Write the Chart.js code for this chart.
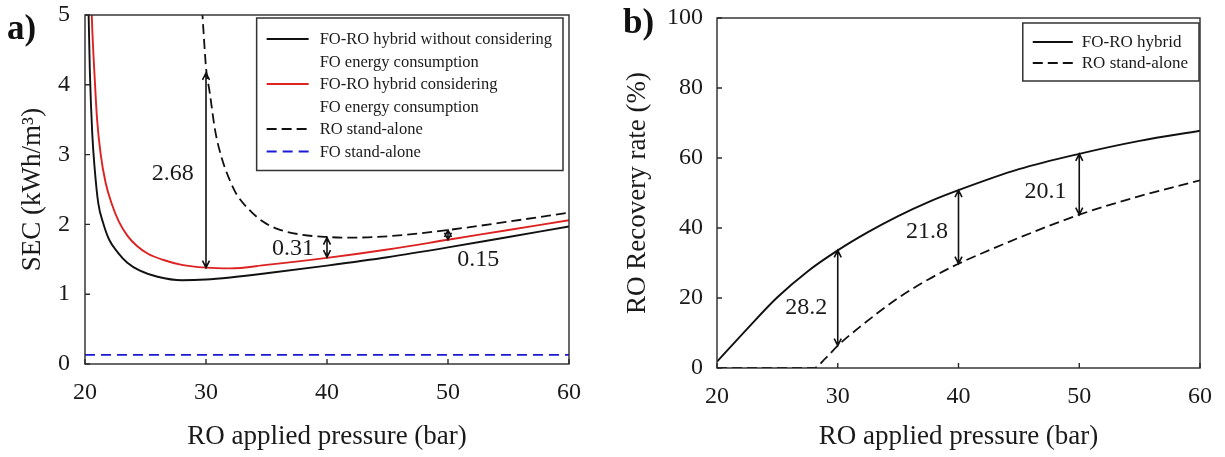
<!DOCTYPE html>
<html lang="en">
<head>
  <meta charset="UTF-8">
  <title>FO-RO hybrid: SEC and recovery vs RO applied pressure</title>
  <script src="https://cdn.jsdelivr.net/npm/chart.js@4.4.0/dist/chart.umd.min.js"></script>
  <style>
    body { margin: 0; background: #fff; }
    #wrap { position: relative; width: 1225px; height: 457px; }
    .panel { position: absolute; top: 0; height: 457px; }
    #boxA { left: 0; width: 600px; }
    #boxB { left: 610px; width: 615px; }
    .tag { position: absolute; font-family: "Liberation Serif", serif; font-weight: bold; font-size: 35px; color: #111; line-height: 1; }
  </style>
</head>
<body>
<div id="wrap">
  <div class="panel" id="boxA"><canvas id="chartA" width="600" height="457"></canvas></div>
  <div class="panel" id="boxB"><canvas id="chartB" width="615" height="457"></canvas></div>
  <div class="tag" style="left:7px;top:10px;">a)</div>
  <div class="tag" style="left:623px;top:4px;">b)</div>
</div>
<script>
// ---- panel a) SEC vs RO applied pressure ----
var pressHybrid = [20.2, 20.3, 20.4, 20.6, 20.8, 21.1, 21.5, 22.0, 22.7, 23.5, 24.5, 26, 28, 30, 32, 35, 40, 45, 50, 55, 60];
var secHybrid   = [5.6, 5.0, 4.2, 3.3, 2.8, 2.3, 2.02, 1.78, 1.6, 1.45, 1.34, 1.25, 1.2, 1.21, 1.24, 1.3, 1.41, 1.53, 1.67, 1.82, 1.97];

var pressHybridFo = [20.5, 20.6, 20.8, 21.0, 21.3, 21.7, 22.2, 22.8, 23.5, 24.3, 25.2, 26.5, 28, 30, 32, 35, 40, 45, 50, 55, 60];
var secHybridFo   = [5.3, 4.8, 4.1, 3.5, 3.0, 2.6, 2.3, 2.04, 1.84, 1.69, 1.58, 1.49, 1.42, 1.38, 1.37, 1.42, 1.52, 1.64, 1.78, 1.92, 2.06];

var pressRoA = [29.6, 29.8, 30.0, 30.3, 30.75, 31.3, 32, 32.5, 33.4, 34.7, 36, 38, 40, 42, 45, 50, 55, 60];
var secRo    = [5.3, 4.75, 4.25, 3.9, 3.35, 2.95, 2.62, 2.44, 2.24, 2.04, 1.93, 1.85, 1.82, 1.81, 1.83, 1.92, 2.04, 2.17];

var pressFo = [20, 60];
var secFo   = [0.13, 0.13];

var gapPressA = [30, 40, 50];
var gapLowA   = [1.38, 1.53, 1.78];
var gapHighA  = [4.17, 1.81, 1.92];
var gapTextA  = ['2.68', '0.31', '0.15'];
var gapTextXA = [27.25, 37.2, 52.5];
var gapTextYA = [2.73, 1.65, 1.49];

// ---- panel b) RO recovery rate vs RO applied pressure ----
var pressHybridB = [20, 22.5, 25, 27.5, 30, 32.5, 35, 37.5, 40, 45, 50, 55, 60];
var recHybrid    = [1.8, 11.2, 20.2, 27.6, 33.6, 38.8, 43.4, 47.4, 50.8, 56.8, 61.2, 64.9, 67.8];

var pressRoB = [20, 28, 29, 30, 32, 35, 37.5, 40, 42.5, 45, 50, 55, 60];
var recRo    = [0, 0, 2.8, 6.4, 12.2, 20, 25.3, 29.8, 33.6, 37.2, 43.8, 49.1, 53.6];

var gapPressB = [30, 40, 50];
var gapLowB   = [6.4, 29.8, 43.8];
var gapHighB  = [33.6, 50.8, 61.2];
var gapTextB  = ['28.2', '21.8', '20.1'];
var gapTextXB = [27.4, 37.4, 47.2];
var gapTextYB = [17.1, 38.9, 50.5];

var SERIF = '"Liberation Serif", "Times New Roman", serif';
var INK = '#1a1a1a';

function pts(xs, ys) {
  return xs.map(function (x, i) { return { x: x, y: ys[i] }; });
}

function arrowHead(ctx, x, y, dir) {
  ctx.moveTo(x - 3.5, y + dir * 7);
  ctx.lineTo(x, y);
  ctx.lineTo(x + 3.5, y + dir * 7);
}

// frame, inward ticks, gap arrows and the boxed legend
var sketchPlugin = {
  id: 'sketch',
  afterDraw: function (chart, args, opts) {
    var ctx = chart.ctx, area = chart.chartArea;
    var xs = chart.scales.x, ys = chart.scales.y;
    ctx.save();

    ctx.strokeStyle = '#2a2a2a';
    ctx.lineWidth = 1.4;
    ctx.strokeRect(area.left, area.top, area.right - area.left, area.bottom - area.top);
    ctx.beginPath();
    xs.ticks.forEach(function (t) {
      var px = xs.getPixelForValue(t.value);
      ctx.moveTo(px, area.bottom); ctx.lineTo(px, area.bottom - 5);
    });
    ys.ticks.forEach(function (t) {
      var py = ys.getPixelForValue(t.value);
      ctx.moveTo(area.left, py); ctx.lineTo(area.left + 5, py);
    });
    ctx.stroke();

    // double headed arrows between curves
    var g = opts.gaps;
    ctx.strokeStyle = '#111';
    ctx.lineWidth = 1.6;
    ctx.fillStyle = INK;
    ctx.font = '24px ' + SERIF;
    ctx.textAlign = 'center';
    ctx.textBaseline = 'middle';
    g.x.forEach(function (v, i) {
      var px = xs.getPixelForValue(v);
      var yTop = ys.getPixelForValue(g.high[i]);
      var yBot = ys.getPixelForValue(g.low[i]);
      ctx.beginPath();
      ctx.moveTo(px, yTop); ctx.lineTo(px, yBot);
      arrowHead(ctx, px, yTop, 1);
      arrowHead(ctx, px, yBot, -1);
      ctx.stroke();
      ctx.fillText(g.text[i], xs.getPixelForValue(g.tx[i]), ys.getPixelForValue(g.ty[i]));
    });

    // legend box in the upper right corner
    var L = opts.legend;
    ctx.font = L.size + 'px ' + SERIF;
    var rows = [];
    chart.data.datasets.forEach(function (ds) {
      ds.label.split('\n').forEach(function (line, k) {
        rows.push({ text: line, ds: k === 0 ? ds : null });
      });
    });
    var textW = Math.max.apply(null, rows.map(function (r) { return ctx.measureText(r.text).width; }));
    var boxW = L.textLeft + textW + 11;
    var boxH = L.padTop + (rows.length - 1) * L.rowH + L.padBottom;
    var bx = area.right - L.right - boxW, by = area.top + L.top;
    ctx.fillStyle = '#fff';
    ctx.fillRect(bx, by, boxW, boxH);
    ctx.strokeStyle = '#333';
    ctx.lineWidth = 1.5;
    ctx.strokeRect(bx, by, boxW, boxH);
    ctx.textAlign = 'left';
    rows.forEach(function (r, i) {
      var ry = by + L.padTop + i * L.rowH;
      if (r.ds) {
        ctx.beginPath();
        ctx.strokeStyle = r.ds.borderColor;
        ctx.lineWidth = 2;
        ctx.setLineDash(r.ds.borderDash || []);
        ctx.moveTo(bx + 10, ry); ctx.lineTo(bx + 10 + L.sample, ry);
        ctx.stroke();
        ctx.setLineDash([]);
      }
      ctx.fillStyle = INK;
      ctx.fillText(r.text, bx + L.textLeft, ry + 1);
    });
    ctx.restore();
  }
};

function axisX(height) {
  return {
    type: 'linear', min: 20, max: 60,
    grid: { display: false, drawTicks: false },
    border: { display: false },
    ticks: { stepSize: 10, padding: 14, color: INK, font: { family: SERIF, size: 24 } },
    title: { display: true, text: 'RO applied pressure (bar)', color: INK,
             font: { family: SERIF, size: 27 }, padding: { top: 0, bottom: 4 } },
    afterFit: function (s) { s.height = height; s.paddingLeft = 0; s.paddingRight = 0; }
  };
}

function axisY(min, max, step, label, width, pad, titlePad) {
  return {
    type: 'linear', min: min, max: max,
    grid: { display: false, drawTicks: false },
    border: { display: false },
    ticks: { stepSize: step, padding: pad, color: INK, font: { family: SERIF, size: 24 } },
    title: { display: true, text: label, color: INK,
             font: { family: SERIF, size: 27 }, padding: { top: titlePad, bottom: 0 } },
    afterFit: function (s) { s.width = width; s.paddingTop = 0; s.paddingBottom = 0; }
  };
}

function line(label, data, color, width, dash) {
  return {
    label: label, data: data, borderColor: color, borderWidth: width,
    borderDash: dash, pointRadius: 0, fill: false,
    cubicInterpolationMode: 'monotone'
  };
}

new Chart(document.getElementById('chartA'), {
  type: 'line',
  data: {
    datasets: [
      line('FO-RO hybrid without considering\nFO energy consumption', pts(pressHybrid, secHybrid), '#111111', 1.9, []),
      line('FO-RO hybrid considering\nFO energy consumption', pts(pressHybridFo, secHybridFo), '#dd2222', 1.9, []),
      line('RO stand-alone', pts(pressRoA, secRo), '#111111', 1.8, [10, 5]),
      line('FO stand-alone', pts(pressFo, secFo), '#1a1ad8', 1.8, [10, 6])
    ]
  },
  options: {
    responsive: false, animation: false,
    layout: { padding: { top: 15, right: 31, left: 0, bottom: 0 } },
    plugins: {
      legend: { display: false }, tooltip: { enabled: false },
      sketch: {
        gaps: { x: gapPressA, low: gapLowA, high: gapHighA, text: gapTextA, tx: gapTextXA, ty: gapTextYA },
        legend: { size: 16.5, rowH: 22.5, padTop: 21, padBottom: 19, textLeft: 63, sample: 42, right: 6, top: 3 }
      }
    },
    scales: {
      x: axisX(93),
      y: axisY(0, 5, 1, 'SEC (kWh/m³)', 85, 15, 17)
    }
  },
  plugins: [sketchPlugin]
});

new Chart(document.getElementById('chartB'), {
  type: 'line',
  data: {
    datasets: [
      line('FO-RO hybrid', pts(pressHybridB, recHybrid), '#111111', 1.9, []),
      line('RO stand-alone', pts(pressRoB, recRo), '#111111', 1.8, [10, 5])
    ]
  },
  options: {
    responsive: false, animation: false,
    layout: { padding: { top: 18, right: 25, left: 0, bottom: 0 } },
    plugins: {
      legend: { display: false }, tooltip: { enabled: false },
      sketch: {
        gaps: { x: gapPressB, low: gapLowB, high: gapHighB, text: gapTextB, tx: gapTextXB, ty: gapTextYB },
        legend: { size: 17, rowH: 21, padTop: 19, padBottom: 18, textLeft: 59, sample: 40, right: 1, top: 5 }
      }
    },
    scales: {
      x: axisX(89),
      y: axisY(0, 100, 20, 'RO Recovery rate (%)', 107, 14, 12)
    }
  },
  plugins: [sketchPlugin]
});
</script>
</body>
</html>
